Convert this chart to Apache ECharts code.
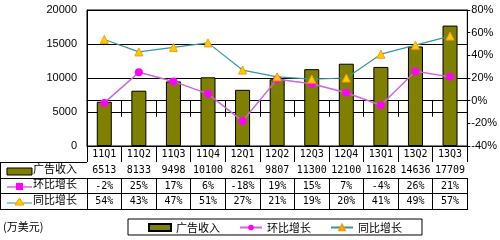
<!DOCTYPE html>
<html>
<head>
<meta charset="utf-8">
<script src="https://cdn.jsdelivr.net/npm/echarts@6/dist/echarts.min.js"></script>
<style>
  html, body { margin: 0; padding: 0; background: #fff; }
  #main { width: 500px; height: 240px; }
</style>
</head>
<body>
<div id="main"></div>
<script>
// 季度
const quarters = ['11Q1', '11Q2', '11Q3', '11Q4', '12Q1', '12Q2', '12Q3', '12Q4', '13Q1', '13Q2', '13Q3']
// 广告收入 (万美元)
const revenue = [6513, 8133, 9498, 10100, 8261, 9807, 11300, 12100, 11628, 14636, 17709]
// 环比增长 %
const qoq = [-2, 25, 17, 6, -18, 19, 15, 7, -4, 26, 21]
// 同比增长 %
const yoy = [54, 43, 47, 51, 27, 21, 19, 20, 41, 49, 57]
const names = ['广告收入', '环比增长', '同比增长']
const unitText = '(万美元)'

const numFont = 'DejaVu Sans Mono'
const cnFont = 'Noto Sans CJK SC'

// 表格行用额外的 x 轴画出来
function tableAxis(data, offset, tickLen) {
  return {
    type: 'category',
    position: 'bottom',
    offset: offset,
    data: data,
    axisLine: { show: true, lineStyle: { color: '#000', width: 1 } },
    axisTick: { show: true, length: tickLen, interval: 0, lineStyle: { color: '#000' } },
    axisLabel: { interval: 0, margin: 3, fontSize: 10, color: '#000', fontFamily: numFont, hideOverlap: false }
  }
}

const chart = echarts.init(document.getElementById('main'))
chart.setOption({
  animation: false,
  grid: {
    left: 87, right: 32, top: 10, bottom: 94,
    show: true, borderColor: '#000', borderWidth: 1
  },
  legend: {
    data: [{ name: names[0], icon: 'rect' }, names[1], names[2]],
    left: 128,
    top: 219,
    padding: [3, 20, 2, 20],
    itemGap: 19,
    itemWidth: 22,
    itemHeight: 7,
    borderColor: '#000',
    borderWidth: 1,
    textStyle: { fontSize: 11, color: '#000', fontFamily: cnFont }
  },
  xAxis: [
    tableAxis(quarters, 0, 16),
    tableAxis(revenue.map(v => String(v)), 16, 16),
    tableAxis(qoq.map(v => v + '%'), 32, 15),
    tableAxis(yoy.map(v => v + '%'), 47, 16)
  ],
  yAxis: [
    {
      type: 'value', min: 0, max: 20000, interval: 5000,
      axisLine: { show: true, lineStyle: { color: '#000' } },
      axisTick: { show: false },
      axisLabel: { margin: 10, fontSize: 11, color: '#000', fontFamily: 'Liberation Sans', formatter: v => String(v) },
      splitLine: { show: true, lineStyle: { color: '#000', width: 1 } }
    },
    {
      type: 'value', min: -40, max: 80, interval: 20, position: 'right',
      axisLine: { show: true, lineStyle: { color: '#000' } },
      axisTick: { show: true, length: 3, lineStyle: { color: '#000' } },
      axisLabel: { margin: 4, fontSize: 11, color: '#000', fontFamily: 'Liberation Sans', formatter: '{value}%' },
      splitLine: { show: false }
    }
  ],
  series: [
    {
      name: names[0],
      type: 'bar',
      data: revenue,
      barWidth: 15,
      itemStyle: { color: '#808000', borderColor: '#000', borderWidth: 1 }
    },
    {
      name: names[1],
      type: 'line',
      yAxisIndex: 1,
      data: qoq,
      symbol: 'circle',
      symbolSize: 8,
      lineStyle: { color: '#cc66dd', width: 1.5 },
      itemStyle: { color: '#ff00ff' }
    },
    {
      name: names[2],
      type: 'line',
      yAxisIndex: 1,
      data: yoy,
      symbol: 'triangle',
      symbolSize: 8,
      lineStyle: { color: '#339999', width: 1.2 },
      itemStyle: { color: '#ffcc00', borderColor: '#ff9900', borderWidth: 1 }
    }
  ],
  graphic: [
    // 表格左侧的横线与边框
    { type: 'line', shape: { x1: 0, y1: 162.5, x2: 87, y2: 162.5 }, style: { stroke: '#000' } },
    { type: 'line', shape: { x1: 0, y1: 178.5, x2: 87, y2: 178.5 }, style: { stroke: '#000' } },
    { type: 'line', shape: { x1: 0, y1: 193.5, x2: 87, y2: 193.5 }, style: { stroke: '#000' } },
    { type: 'line', shape: { x1: 0, y1: 209.5, x2: 468, y2: 209.5 }, style: { stroke: '#000' } },
    { type: 'line', shape: { x1: 0.5, y1: 162, x2: 0.5, y2: 210 }, style: { stroke: '#000' } },
    // 广告收入 图例
    { type: 'rect', shape: { x: 7, y: 168, width: 25, height: 7 }, style: { fill: '#808000', stroke: '#000' } },
    { type: 'text', left: 33, top: 163, style: { text: names[0], fontSize: 11, fill: '#000', fontFamily: cnFont } },
    // 环比增长 图例
    { type: 'line', shape: { x1: 7, y1: 187, x2: 32, y2: 187 }, style: { stroke: '#cc66dd', lineWidth: 1.5 } },
    { type: 'rect', shape: { x: 16, y: 183, width: 7, height: 7 }, style: { fill: '#ff00ff' } },
    { type: 'text', left: 33, top: 178, style: { text: names[1], fontSize: 11, fill: '#000', fontFamily: cnFont } },
    // 同比增长 图例
    { type: 'line', shape: { x1: 7, y1: 203, x2: 32, y2: 203 }, style: { stroke: '#339999', lineWidth: 1 } },
    { type: 'polygon', shape: { points: [[19.5, 198], [15, 205], [24, 205]] }, style: { fill: '#ffcc00', stroke: '#ff9900' } },
    { type: 'text', left: 33, top: 194, style: { text: names[2], fontSize: 11, fill: '#000', fontFamily: cnFont } },
    // 单位
    { type: 'text', left: 3, top: 221, style: { text: unitText, fontSize: 11, fill: '#000', fontFamily: cnFont } }
  ]
})
</script>
</body>
</html>
